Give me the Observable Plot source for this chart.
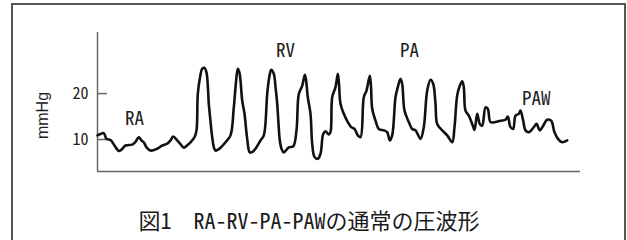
<!DOCTYPE html>
<html>
<head>
<meta charset="utf-8">
<script src="https://cdn.jsdelivr.net/npm/d3@7"></script>
<script src="https://cdn.jsdelivr.net/npm/@observablehq/plot@0.6"></script>
<style>
  html, body { margin: 0; padding: 0; background: #fff; width: 627px; height: 240px; overflow: hidden; }
  #frame { position: absolute; left: 11px; top: 3px; width: 615px; height: 300px; box-sizing: border-box; border: 2px solid #555; }
  #chart { position: absolute; left: 0; top: 0; }
  #caption { position: absolute; left: 0; width: 618px; top: 203px; text-align: center;
    font-family: "Noto Sans CJK JP", sans-serif; font-size: 22px; color: #1a1a1a; white-space: pre; line-height: 32px; }
  #caption .hw { font-feature-settings: "hwid" 1; }
</style>
</head>
<body>
<div id="frame"></div>
<div id="chart"></div>
<div id="caption"></div>
<script>
// time (arbitrary units along the trace) and pressure (mmHg)
const times = [0,3,6.3,9,13,17,21.3,24,28,34.7,38,41.3,44,46.3,49,53,59.7,64.7,69.7,73,75.7,79.7,83,86.3,90,93,97,99,100.3,102.5,104.7,107,109,110.5,111.3,113,114.7,116.5,118,120.5,123,128,133,136.3,138.5,140.3,142,143,144.7,147,149.7,152.3,155,158,163,166.3,169.7,171.7,173.7,176.3,178,179.7,181,182.3,184,186.3,191.3,195.7,199,201.3,204.7,207.3,208.5,210.3,213,214.7,217,220.3,223,225.7,228,231.3,233,234.7,238,240.3,241.5,243,246.3,250.3,253.7,257,260.3,263,266.3,269,272.3,273.5,274.7,278,281.3,286.3,289.7,292.3,294.7,298,300.3,303,304.7,307,311.3,314.7,318,323,326.3,329.7,333,335.7,338,339.7,344.7,349.7,354.7,357,359.7,362.3,364.7,366.3,368,371.3,374.7,377,379.7,382.3,384.7,388,390.3,393,398,403,408,410.3,413,415.7,418,421.3,423,425.7,428,431.3,436.3,439,442.3,445.7,449.7,453.7,457,461.3,464.7,469.7];
const pressure = [10.9,11.2,11.4,10.15,9.9,8.7,7.5,7.8,8.7,8.9,9.5,10.5,9.8,9.4,8.3,7.6,8.0,8.7,9.1,9.8,10.65,9.8,9.0,8.2,8.8,9.4,10.5,12,19.9,23.5,25.4,25.6,24.6,21,17.8,14,10.5,8.2,7.6,7.8,8.2,9.4,10.9,17,22.5,25.4,24.5,22.8,18.5,15.6,10.15,7.2,7.3,8.0,9.8,10.9,19.9,23.5,25.2,24.3,21.5,17.8,13.5,9.8,8,7.2,8.3,8.5,12,19.9,21.7,24.1,23,19.2,15.6,9.1,6.2,5.8,6.9,11.2,11.8,11.1,11.6,19.2,21.4,24.3,22,17.8,15.6,13.8,12.7,12.3,10.9,10.5,19.2,20.65,23.9,21.5,16.7,14.1,12.3,12.0,11.6,9.8,10.9,19.2,21.4,23.2,22.1,16.3,13.8,12.3,12.0,10.15,12.7,20.65,23.0,22.1,17.8,13.4,12.0,10.9,9.4,12.7,19.6,21.7,22.7,21.4,16.3,15.2,13.4,12.1,15.6,13.4,13.0,17,16.7,13.8,13.8,14.1,14.3,15.0,12.7,12.3,15.2,15.6,16.3,14.1,12.0,11.6,12.7,13.4,12.0,13.0,14.3,14.1,11.6,9.9,9.4,9.8];
const yTicks = [10, 20];
const yLabel = "mmHg";
const phaseNames = ["RA", "RV", "PA", "PAW"];
const phaseTimes = [37, 188, 312, 438.7];
const phasePressure = [14.5, 29.3, 29.3, 18.8];
const captionText = "図1　RA-RV-PA-PAWの通常の圧波形";

const trace = times.map((t, i) => ({t, p: pressure[i]}));
const phases = phaseNames.map((name, i) => ({name, t: phaseTimes[i], p: phasePressure[i]}));

const chart = Plot.plot({
  width: 627,
  height: 190,
  marginLeft: 97,
  marginRight: 47,
  marginTop: 32,
  marginBottom: 19,
  style: {fontFamily: '"Noto Sans CJK JP", sans-serif', background: "transparent", overflow: "visible"},
  x: {domain: [0, 483], axis: null},
  y: {domain: [3.04, 33.3]},
  marks: [
    Plot.ruleX([0], {stroke: "#666", strokeWidth: 1.5}),
    Plot.ruleY([3.04], {stroke: "#666", strokeWidth: 1.5}),
    Plot.axisY({ticks: yTicks, tickSize: -10, text: null, stroke: "#666", strokeWidth: 1.5, label: null}),
    Plot.axisY({ticks: yTicks, tickSize: 0, tickPadding: 9, fontSize: 16, fill: "#222", label: null}),
    Plot.line(trace, {x: "t", y: "p", curve: "catmull-rom", stroke: "#111", strokeWidth: 2.6, strokeLinejoin: "round"}),
    Plot.text(phases, {x: "t", y: "p", text: "name", fontSize: 19, fill: "#222"}),
    Plot.text([yLabel], {frameAnchor: "left", textAnchor: "middle", dx: -55, dy: 13.5, rotate: -90, fontSize: 16, fill: "#222", text: d => d})
  ]
});
d3.select(chart).selectAll("text").each(function () {
  const el = d3.select(this);
  if (this.textContent === yLabel) {
    el.style("font-family", '"Liberation Sans", Arial, sans-serif').style("font-size", "16px");
  } else {
    el.style("font-feature-settings", '"hwid" 1');
  }
});
document.getElementById("chart").appendChild(chart);

// caption: half-width Latin runs, ideographic characters left full width
const cap = d3.select("#caption");
captionText.split(/([A-Za-z0-9\-]+)/).filter(s => s.length).forEach(s => {
  cap.append("span").attr("class", /^[A-Za-z0-9\-]+$/.test(s) ? "hw" : null).text(s);
});
</script>
</body>
</html>
